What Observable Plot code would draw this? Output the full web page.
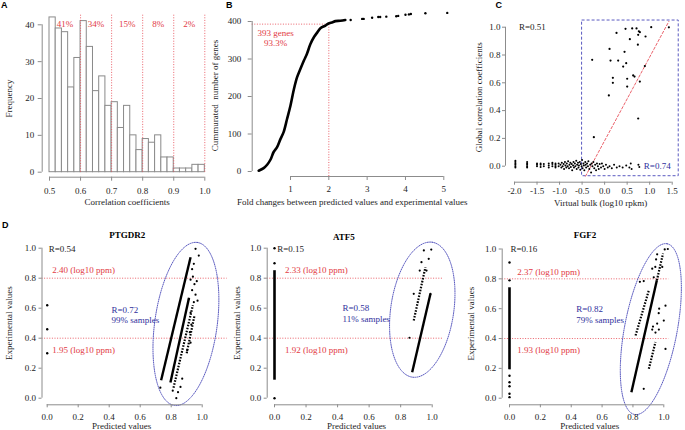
<!DOCTYPE html>
<html><head><meta charset="utf-8">
<script src="https://cdn.jsdelivr.net/npm/d3@7"></script>
<script src="https://cdn.jsdelivr.net/npm/@observablehq/plot@0.6"></script>
<style>
body{margin:0;background:#fff;}
#wrap{position:relative;width:685px;height:430px;overflow:hidden;background:#fff;}
#wrap svg{position:absolute;left:0;top:0;overflow:visible;font-family:"Liberation Serif","Times New Roman",serif !important;font-size:9px !important;}
#wrap svg text{font-family:"Liberation Serif","Times New Roman",serif !important;}
.plab{position:absolute;font:bold 9px "Liberation Sans",Arial,sans-serif;color:#000;}
</style></head><body><div id="wrap"></div>
<script>
// ---------------- DATA ----------------
// A: histogram of correlation coefficients
const aBinLo = [0.50,0.52,0.54,0.56,0.58,0.60,0.62,0.64,0.66,0.68,0.70,0.72,0.74,0.76,0.78,0.80,0.82,0.84,0.86,0.88,0.90,0.92,0.94,0.96,0.98];
const aBinHi = [0.52,0.54,0.56,0.58,0.60,0.62,0.64,0.66,0.68,0.70,0.72,0.74,0.76,0.78,0.80,0.82,0.84,0.86,0.88,0.90,0.92,0.94,0.96,0.98,1.00];
const aCounts = [42,39,38,23,31,41,34,22,26,18,19,12,18,10,6,9,8,10,4,4,1,1,1,2,2];
const aCuts = [0.6,0.7,0.8,0.9,1.0];
const aPctText = ["41%","34%","15%","8%","2%"];
const aPctX = [0.55,0.65,0.75,0.85,0.95];
const aXTicks = [0.5,0.6,0.7,0.8,0.9,1.0];
const aYTicks = [0,10,20,30,40];

// B: cumulative number of genes vs fold change
const bCurveX = [0.17,0.30,0.39,0.48,0.56,0.65,0.74,0.82,0.91,1.00,1.09,1.17,1.26,1.35,1.43,1.52,1.61,1.70,1.78,1.91,1.98,2.10,2.17,2.30,2.43];
const bCurveY = [2,9,18,32,52,65,87,105,140,176,220,251,274,296,314,340,358,371,382,389,394,398,401,402,404];
const bTailX = [2.57,2.87,2.91,3.13,3.29,3.34,3.50,3.76,3.81,4.00,4.09,4.14,4.52,5.09];
const bTailY = [404,407,407,410,412,412,413,414,415,418,419,420,422,423];
const bCut = {x: 2, y: 393};
const bCutText = ["393 genes", "93.3%"];
const bCutTextX = [0.61, 0.61];
const bCutTextY = [368.5, 342];
const bXTicks = [1,2,3,4,5];
const bYTicks = [0,100,200,300,400];

// C: global correlation vs virtual bulk
const cHigh = [[-0.276,0.765],[-0.239,0.209],[0.094,0.509],[0.109,0.844],[0.131,0.76],[0.183,0.636],[0.183,0.60],[0.264,0.959],[0.301,0.76],[0.412,0.717],[0.442,0.823],[0.464,0.988],[0.479,0.741],[0.501,0.629],[0.501,0.573],[0.560,0.914],[0.612,0.991],[0.634,0.653],[0.664,0.645],[0.708,0.991],[0.745,0.945],[0.760,0.971],[0.738,0.874],[0.782,0.609],[0.745,0.343],[0.782,0.964],[0.908,0.933],[0.893,0.72],[1.034,1.0],[1.426,0.999]];
const cLow = [[-1.98,-0.01],[-1.98,0.0],[-1.98,0.01],[-1.98,0.02],[-1.98,0.03],[-1.98,0.04],
 [-1.72,-0.01],[-1.72,0.0],[-1.72,0.01],[-1.72,0.02],[-1.72,0.03],
 [-1.50,0.0],[-1.50,0.01],[-1.50,0.02],[-1.42,-0.005],[-1.42,0.01],[-1.42,0.02],
 [-1.35,0.0],[-1.35,0.015],[-1.24,-0.01],[-1.24,0.005],[-1.24,0.02],
 [-1.16,0.0],[-1.16,0.015],[-1.16,0.025],[-1.09,-0.01],[-1.09,0.0],[-1.09,0.01],[-1.09,0.02],[-1.02,0.0],[-1.02,0.02],
 [-0.98,0.01],[-0.96,-0.01],[-0.95,0.025],[-0.93,0.0],[-0.91,0.015],[-0.90,-0.02],[-0.88,0.03],[-0.87,0.005],[-0.85,-0.01],[-0.84,0.02],
 [-0.82,0.0],[-0.81,0.035],[-0.79,-0.015],[-0.78,0.01],[-0.76,0.025],[-0.75,-0.005],[-0.73,0.015],[-0.72,-0.03],[-0.70,0.005],[-0.69,0.03],
 [-0.68,-0.01],[-0.66,0.02],[-0.65,0.0],[-0.63,0.04],[-0.62,-0.02],[-0.61,0.01],[-0.59,0.025],[-0.58,-0.01],[-0.57,0.005],[-0.55,0.03],
 [-0.54,-0.025],[-0.53,0.015],[-0.51,0.0],[-0.50,0.045],[-0.49,-0.015],[-0.47,0.02],[-0.46,0.005],[-0.45,-0.03],[-0.43,0.03],[-0.42,0.01],
 [-0.41,-0.01],[-0.39,0.02],[-0.37,0.0],[-0.36,0.035],[-0.34,-0.02],[-0.32,0.01],[-0.30,-0.045],[-0.29,0.02],[-0.27,0.0],[-0.25,0.03],
 [-0.23,-0.015],[-0.21,0.01],[-0.19,-0.03],[-0.17,0.02],[-0.15,0.0],[-0.13,-0.02],[-0.11,0.015],[-0.08,-0.01],[-0.06,0.02],[-0.03,0.0],
 [0.00,-0.02],[0.03,0.01],[0.07,-0.01],[0.11,0.0],[0.16,-0.015],[0.21,0.01],[0.27,-0.01],[0.33,0.0],[0.40,-0.01],[0.48,0.005],
 [0.55,-0.01],[0.58,0.02],[0.60,-0.02],[0.75,0.01],[0.77,-0.005]];
const cBox = {x1: -0.5, x2: 1.645, y1: -0.072, y2: 1.048};
const cFit = [{x: -0.424, y: -0.072}, {x: 1.425, y: 1.041}];
const cRText = [{x: -1.9, y: 1.0, t: "R=0.51"}];
const cRBlue = [{x: 0.87, y: 0.0, t: "R=0.74"}];
const cXTicks = [-2,-1.5,-1,-0.5,0,0.5,1,1.5];
const cYTicks = [0,0.2,0.4,0.6,0.8,1.0];

// D: three genes, predicted vs experimental values
const dTicks = [0,0.2,0.4,0.6,0.8,1.0];
const dCut = [0.8, 0.4];
const ptgdr2 = {
  title: "PTGDR2", rAll: "R=0.54", rIn: "R=0.72", pct: "99% samples", hi: "2.40 (log10 ppm)", lo: "1.95 (log10 ppm)",
  zeroPts: [0.62, 0.46, 0.30], zeroBand: [],
  dense: [[0.735,0.12,0.925,0.94],[0.795,0.105,0.915,0.67]],
  sparse: [[0.815,0.07,0.94,0.62],[0.90,0.30,0.95,0.55]],
  pts: [[0.957,0.996],[0.978,0.951],[0.946,0.896],[0.935,0.86],[0.94,0.81],[0.925,0.79],[0.95,0.76],[0.935,0.72],[0.957,0.69],[0.914,0.66],[0.946,0.64],[0.925,0.57],[0.93,0.49],[0.92,0.44],[0.925,0.37],[0.903,0.32],[0.871,0.13],[0.86,0.075],[0.844,0.04],[0.833,0.0],[0.81,0.05],[0.73,0.07],[0.965,0.78],[0.97,0.65]]
};
const atf5 = {
  title: "ATF5", rAll: "R=0.15", rIn: "R=0.58", pct: "11% samples", hi: "2.33 (log10 ppm)", lo: "1.92 (log10 ppm)",
  zeroPts: [0.0, 0.90, 1.0], zeroBand: [[0.12, 0.85]],
  dense: [[0.873,0.173,0.989,0.696]],
  sparse: [[0.883,0.518,0.957,0.873]],
  pts: [[0.947,0.985],[0.994,0.991],[0.978,0.929],[0.932,0.907],[0.921,0.851],[0.964,0.851],[0.883,0.696],[0.989,0.696],[0.856,0.403]]
};
const fgf2 = {
  title: "FGF2", rAll: "R=0.16", rIn: "R=0.82", pct: "79% samples", hi: "2.37 (log10 ppm)", lo: "1.93 (log10 ppm)",
  zeroPts: [0.91, 0.79, 0.15, 0.107, 0.08, 0.03, 0.007], zeroBand: [[0.19, 0.74]],
  dense: [[0.79,0.04,0.955,0.79]],
  sparse: [[0.955,0.79,0.995,0.97],[0.817,0.42,0.903,0.723],[0.903,0.197,0.946,0.376]],
  pts: [[0.845,0.78],[0.87,0.785],[0.935,0.81],[0.957,0.964],[0.95,0.93],[1.006,0.997],[1.026,1.0],[0.925,0.868],[0.945,0.88],[0.99,0.88],[0.967,0.57],[0.957,0.5],[1.0,0.52],[0.97,0.6],[0.925,0.46],[0.968,0.46],[1.011,0.62],[0.87,0.063],[0.93,0.48],[1.011,0.33],[0.946,0.44]]
};

// ---------------- LAYOUT / STYLE ----------------
const W = 685, H = 430;
const SERIF = '"Liberation Serif","Times New Roman",serif';
const AX = "#8c8c8c", TXT = "#1c1c1c", RED = "#e8505a", REDT = "#e23a44", BLUE = "#2f2f9c", ELL = "#5a5ac0";
const FS = 9;

function dom(v0, p0, v1, p1, a, b) { const k = (p1 - p0) / (v1 - v0); return [v0 + (a - p0) / k, v0 + (b - p0) / k]; }

function panel(g, build) {
  const xd = dom(g.xv[0], g.xp[0], g.xv[1], g.xp[1], g.L, g.R);
  const yd = dom(g.yv[0], g.yp[0], g.yv[1], g.yp[1], g.B, g.T);
  const kx = (g.xp[1] - g.xp[0]) / (g.xv[1] - g.xv[0]);
  const ky = (g.yp[0] - g.yp[1]) / (g.yv[1] - g.yv[0]);
  const svg = Plot.plot({
    width: W, height: H,
    marginLeft: g.L, marginRight: W - g.R, marginTop: g.T, marginBottom: H - g.B,
    x: {domain: xd}, y: {domain: yd},
    style: {background: "transparent", overflow: "visible", color: TXT},
    marks: build(xd, yd, kx, ky)
  });
  svg.setAttribute("font-family", SERIF);
  svg.setAttribute("font-size", FS);
  document.getElementById("wrap").appendChild(svg);
}

function axes(xd, yd, xt, yt, fx, fy, o = {}) {
  return [
    Plot.ruleX([xd[0]], {y1: yt[0], y2: yt[yt.length - 1], stroke: AX}),
    Plot.ruleY([yd[0]], {x1: xt[0], x2: xt[xt.length - 1], stroke: AX}),
    Plot.axisY({ticks: yt, anchor: "left", tickSize: o.ys ?? 4, tickPadding: o.yp ?? 3, stroke: AX, fill: TXT, tickFormat: fy, label: null}),
    Plot.axisX({ticks: xt, anchor: "bottom", tickSize: o.xs ?? 4, tickPadding: o.xp ?? 4, stroke: AX, fill: TXT, tickFormat: fx, label: null})
  ];
}
const f1 = d => d.toFixed(1), f0 = d => String(d);

function xLabel(text, xc, dy) { return Plot.text([text], {text: d => d, frameAnchor: "bottom", x: xc, dy, textAnchor: "middle", lineAnchor: "middle", fill: TXT}); }
function yLabel(text, yc, dx) { return Plot.text([text], {text: d => d, frameAnchor: "left", y: yc, dx, rotate: -90, textAnchor: "middle", lineAnchor: "middle", fill: TXT}); }

// ---------------- PANEL A ----------------
panel({L: 41.7, R: 215, T: 8, B: 176.7, xv: [0.5, 1.0], xp: [49, 204.3], yv: [0, 40], yp: [171.7, 24.3]}, (xd, yd) => {
  const bins = aCounts.map((n, i) => ({lo: aBinLo[i], hi: aBinHi[i], n}));
  const pcts = aPctText.map((t, i) => ({t, x: aPctX[i]}));
  return [
    Plot.rect(bins, {x1: "lo", x2: "hi", y1: 0, y2: "n", fill: "white", stroke: "#8a8a8a", strokeWidth: 1}),
    Plot.ruleX(aCuts, {y1: 0, y2: 42.6, stroke: RED, strokeDasharray: "1,1.6", strokeWidth: 0.9}),
    Plot.text(pcts, {x: "x", y: 40.1, text: "t", fill: REDT}),
    ...axes(xd, yd, aXTicks, aYTicks, f1, f0, {yp: 4, xp: 6}),
    xLabel("Correlation coefficients", 0.75, 25),
    yLabel("Frequency", 20, -33.4)
  ];
});

// ---------------- PANEL B ----------------
panel({L: 251.7, R: 452, T: 8, B: 176, xv: [1, 5], xp: [290, 443.3], yv: [0, 400], yp: [171, 21]}, (xd, yd) => {
  const curve = bCurveX.map((x, i) => ({x, y: bCurveY[i]}));
  const tail = bTailX.map((x, i) => ({x, y: bTailY[i]}));
  const lab = bCutText.map((t, i) => ({t, x: bCutTextX[i], y: bCutTextY[i]}));
  return [
    Plot.ruleY([bCut.y], {x1: xd[0], x2: bCut.x, stroke: RED, strokeDasharray: "1,1.6", strokeWidth: 0.9}),
    Plot.ruleX([bCut.x], {y1: yd[0], y2: bCut.y, stroke: RED, strokeDasharray: "1,1.6", strokeWidth: 0.9}),
    Plot.line(curve, {x: "x", y: "y", stroke: "black", strokeWidth: 2.6, curve: "catmull-rom"}),
    Plot.dot(tail, {x: "x", y: "y", r: 1.2, fill: "black"}),
    Plot.text(lab, {x: "x", y: "y", text: "t", fill: REDT}),
    ...axes(xd, yd, bXTicks, bYTicks, f0, f0, {yp: 7, xp: 5}),
    xLabel("Fold changes between predicted values and experimental values", 2.61, 25.7),
    yLabel("Cummurated  number of genes", 202.7, -36.7)
  ];
});

// ---------------- PANEL C ----------------
panel({L: 505, R: 682, T: 10, B: 181.7, xv: [-2, 1.5], xp: [514, 671.7], yv: [0, 1], yp: [165.7, 26.7]}, (xd, yd) => {
  const low = cLow.map(([x, y]) => ({x, y}));
  const high = cHigh.map(([x, y]) => ({x, y}));
  return [
    Plot.rect([cBox], {x1: "x1", x2: "x2", y1: "y1", y2: "y2", fill: "none", stroke: ELL, strokeDasharray: "3,2", strokeWidth: 1}),
    Plot.line(cFit, {x: "x", y: "y", stroke: RED, strokeDasharray: "2.5,2", strokeWidth: 0.9}),
    Plot.dot(low, {x: "x", y: "y", r: 1, fill: "black"}),
    Plot.dot(high, {x: "x", y: "y", r: 1.1, fill: "black"}),
    Plot.text(cRText, {x: "x", y: "y", text: "t", textAnchor: "start", fill: TXT}),
    Plot.text(cRBlue, {x: "x", y: "y", text: "t", textAnchor: "start", fill: BLUE}),
    ...axes(xd, yd, cXTicks, cYTicks, f1, f1, {ys: 3, yp: 2, xs: 3, xp: 2.5}),
    xLabel("Virtual bulk (log10 rpkm)", -0.09, 20.5),
    yLabel("Global correlation coefficients", 0.496, -26)
  ];
});

// ---------------- PANEL D ----------------
function ellipse(e, kx, ky) {
  const th = e.tilt * Math.PI / 180, pts = [];
  for (let i = 0; i <= 120; i++) {
    const t = i / 120 * 2 * Math.PI;
    const dxp = e.a * Math.cos(t) * Math.sin(th) + e.b * Math.sin(t) * Math.cos(th);
    const dyp = -e.a * Math.cos(t) * Math.cos(th) + e.b * Math.sin(t) * Math.sin(th);
    pts.push({x: e.cx + dxp / kx, y: e.cy - dyp / ky});
  }
  return pts;
}
function dPanel(gene, g, lay) {
  panel(g, (xd, yd, kx, ky) => {
    const dense = gene.dense.map(([x1, y1, x2, y2]) => ({x1, y1, x2, y2}));
    const sparse = gene.sparse.map(([x1, y1, x2, y2]) => ({x1, y1, x2, y2}));
    const pts = gene.pts.map(([x, y]) => ({x, y}));
    const band = gene.zeroBand.map(([y1, y2]) => ({y1, y2}));
    return [
      Plot.ruleY(dCut, {stroke: RED, strokeDasharray: "1,1.6", strokeWidth: 0.9}),
      Plot.line(ellipse(lay.ell, kx, ky), {x: "x", y: "y", stroke: ELL, strokeDasharray: "1,1.2", strokeWidth: 1}),
      Plot.ruleX(band, {x: 0, y1: "y1", y2: "y2", stroke: "black", strokeWidth: 2.6}),
      Plot.dot(gene.zeroPts, {x: 0, y: d => d, r: 1.2, fill: "black"}),
      Plot.link(dense, {x1: "x1", y1: "y1", x2: "x2", y2: "y2", stroke: "black", strokeWidth: 2.4}),
      Plot.link(sparse, {x1: "x1", y1: "y1", x2: "x2", y2: "y2", stroke: "black", strokeWidth: 2.2, strokeDasharray: "1.6,1.4"}),
      Plot.dot(pts, {x: "x", y: "y", r: 1.1, fill: "black"}),
      Plot.text([gene.rAll], {text: d => d, x: lay.rAllX, y: 0.996, textAnchor: "start", fill: TXT}),
      Plot.text([gene.hi], {text: d => d, x: lay.redX, y: lay.hiY, textAnchor: "start", fill: REDT}),
      Plot.text([gene.lo], {text: d => d, x: lay.redX, y: lay.loY, textAnchor: "start", fill: REDT}),
      Plot.text([gene.rIn], {text: d => d, x: lay.blueX, y: lay.b1Y, textAnchor: "start", fill: BLUE}),
      Plot.text([gene.pct], {text: d => d, x: lay.blueX, y: lay.b2Y, textAnchor: "start", fill: BLUE}),
      Plot.text([gene.title], {text: d => d, frameAnchor: "top", x: lay.titleX, dy: lay.titleY - g.T, textAnchor: "middle", lineAnchor: "middle", fontWeight: "bold", fill: "#000"}),
      ...axes(xd, yd, dTicks, dTicks, f1, f1, {ys: 3, yp: 3, xs: 3, xp: 5.5}),
      xLabel("Predicted values", lay.xlabX, 21.4),
      yLabel("Experimental values", 0.5, lay.ylabPx - g.L)
    ];
  });
}
dPanel(ptgdr2, {L: 41.5, R: 226.7, T: 240, B: 404.3, xv: [0, 1], xp: [46.7, 201.7], yv: [0, 1], yp: [397.7, 247.7]},
  {ell: {cx: 0.895, cy: 0.495, a: 82.3, b: 31.2, tilt: 8.0}, rAllX: 0.01, redX: 0.032, hiY: 0.851, loY: 0.318, blueX: 0.415, b1Y: 0.585, b2Y: 0.523, titleX: 0.516, titleY: 235, xlabX: 0.48, ylabPx: 8.3});
dPanel(atf5, {L: 266.7, R: 443.3, T: 240, B: 404.3, xv: [0, 1], xp: [274, 431.7], yv: [0, 1], yp: [397.7, 247.7]},
  {ell: {cx: 0.937, cy: 0.59, a: 68.2, b: 31.5, tilt: 8.4}, rAllX: 0.017, redX: 0.066, hiY: 0.851, loY: 0.318, blueX: 0.431, b1Y: 0.6, b2Y: 0.525, titleX: 0.44, titleY: 236.7, xlabX: 0.52, ylabPx: 236.7});
dPanel(fgf2, {L: 501.7, R: 668.3, T: 240, B: 404.3, xv: [0, 1], xp: [509, 663.3], yv: [0, 1], yp: [397.7, 248.5]},
  {ell: {cx: 0.916, cy: 0.463, a: 86.9, b: 26.3, tilt: 10.8}, rAllX: 0.006, redX: 0.05, hiY: 0.846, loY: 0.32, blueX: 0.432, b1Y: 0.6, b2Y: 0.526, titleX: 0.49, titleY: 235, xlabX: 0.52, ylabPx: 471});

// panel letters
[["A", 1, 0], ["B", 226, 0], ["C", 495.5, 0], ["D", 2, 220]].forEach(([t, x, y]) => {
  const d = document.createElement("div"); d.className = "plab"; d.textContent = t;
  d.style.left = x + "px"; d.style.top = y + "px"; document.getElementById("wrap").appendChild(d);
});
</script></body></html>
